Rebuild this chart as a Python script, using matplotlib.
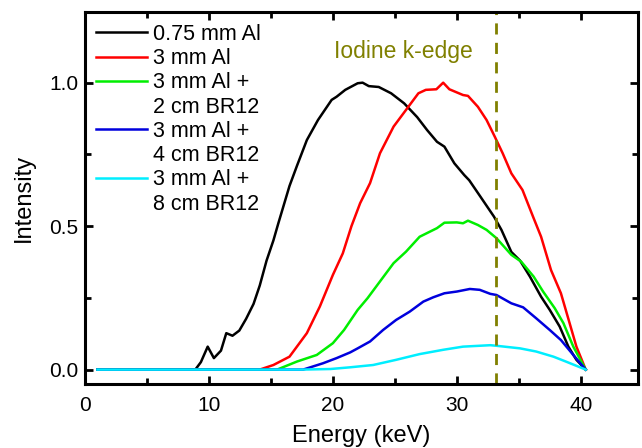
import matplotlib
matplotlib.use("Agg")
import matplotlib.pyplot as plt
from matplotlib.ticker import MultipleLocator, FormatStrFormatter
from matplotlib.lines import Line2D

plt.rcParams['font.family'] = ['Liberation Sans', 'DejaVu Sans']

# ---- data ----
labels = [["0.75 mm Al"], ["3 mm Al"], ["3 mm Al +", "2 cm BR12"],
          ["3 mm Al +", "4 cm BR12"], ["3 mm Al +", "8 cm BR12"]]
colors = ["#000000", "#ff0000", "#00ee00", "#0000dd", "#00eeff"]

e_black = [1, 8.9, 9.35, 9.9, 10.4, 10.97, 11.4, 11.9, 12.45, 13.0, 13.6, 14.1, 14.65,
           15.2, 15.6, 16.5, 17.1, 17.9, 18.8, 19.9, 20.3, 21.0, 22.0, 22.4, 22.9, 23.7,
           24.7, 25.75, 26.8, 27.6, 28.4, 29.0, 29.8, 30.6, 31.0, 31.9, 33.0, 33.6, 34.4,
           35.1, 35.9, 36.8, 37.5, 38.3, 39.0, 39.65, 40.4]
i_black = [0, 0, 0.026, 0.08, 0.04, 0.066, 0.127, 0.118, 0.136, 0.177, 0.229, 0.293, 0.38,
           0.45, 0.51, 0.64, 0.71, 0.80, 0.87, 0.94, 0.951, 0.975, 0.998, 1.0, 0.988, 0.985,
           0.963, 0.928, 0.88, 0.835, 0.794, 0.777, 0.719, 0.678, 0.66, 0.603, 0.533, 0.487, 0.41,
           0.38, 0.324, 0.254, 0.208, 0.15, 0.08, 0.034, 0.0]

e_red = [1, 14.1, 15.2, 16.5, 17.9, 18.95, 20.0, 20.8, 21.5, 22.2, 23.0, 23.8, 24.9, 25.9,
         26.9, 27.5, 28.35, 28.9, 29.4, 30.5, 30.9, 31.7, 32.4, 33.06, 33.7, 34.4, 35.3,
         36.15, 36.8, 37.6, 38.4, 39.1, 39.65, 40.4]
i_red = [0, 0, 0.016, 0.045, 0.127, 0.22, 0.33, 0.405, 0.5, 0.58, 0.65, 0.754, 0.847, 0.905,
         0.963, 0.975, 0.977, 1.0, 0.977, 0.957, 0.954, 0.916, 0.87, 0.812, 0.754, 0.684, 0.626,
         0.533, 0.463, 0.347, 0.266, 0.162, 0.08, 0.0]

e_green = [1, 15.5, 17.1, 18.7, 20.0, 20.9, 22.0, 22.8, 23.9, 24.9, 25.9, 27.0, 28.4, 29.0,
           30.0, 30.5, 30.9, 31.7, 32.4, 33.2, 34.4, 35.2, 36.2, 36.96, 37.9, 38.6, 39.4, 40.4]
i_green = [0, 0, 0.028, 0.051, 0.092, 0.138, 0.208, 0.249, 0.313, 0.371, 0.411, 0.463, 0.493,
           0.512, 0.513, 0.51, 0.519, 0.504, 0.487, 0.458, 0.40, 0.376, 0.324, 0.272, 0.214,
           0.162, 0.08, 0]

e_blue = [1, 17.6, 19.2, 20.3, 21.4, 22.0, 23.0, 24.05, 25.1, 26.2, 27.3, 28.1, 29.0, 30.0,
          31.05, 31.85, 32.7, 33.2, 34.4, 35.35, 36.4, 37.5, 38.4, 39.4, 40.4]
i_blue = [0, 0, 0.022, 0.04, 0.06, 0.074, 0.098, 0.138, 0.173, 0.202, 0.237, 0.252, 0.266,
          0.272, 0.281, 0.278, 0.264, 0.26, 0.231, 0.217, 0.179, 0.138, 0.103, 0.051, 0]

e_cyan = [1, 17.5, 19.8, 21.4, 23.25, 25.1, 27.0, 28.9, 30.5, 32.7, 33.2, 35.1, 36.4, 37.8,
          38.8, 40.4]
i_cyan = [0, 0, 0.002, 0.008, 0.016, 0.034, 0.054, 0.069, 0.08, 0.085, 0.083, 0.074, 0.063,
          0.045, 0.028, 0]

k_edge = 33.17
k_label = "Iodine k-edge"

series = [(e_black, i_black), (e_red, i_red), (e_green, i_green),
          (e_blue, i_blue), (e_cyan, i_cyan)]

# ---- figure ----
fig = plt.figure(figsize=(6.42, 4.48), dpi=100)
ax = fig.add_axes([0.1324, 0.143, 0.861, 0.830])

handles, texts = [], []
for (e, i), c, lab in zip(series, colors, labels):
    ln, = ax.plot(e, i, color=c, lw=1.8)
    handles.append(ln)
    texts.append(lab[0])
    for extra in lab[1:]:
        handles.append(Line2D([], [], color="none"))
        texts.append(extra)

ax.axvline(k_edge, color="#808000", lw=2.0, ls=(0, (4, 3)))
ax.text(25.7, 1.107, k_label, color="#808000", fontsize=16.5, ha="center", va="center")

ax.set_xlim(0, 44.6)
ax.set_ylim(-0.05, 1.246)
ax.xaxis.set_major_locator(MultipleLocator(10))
ax.xaxis.set_minor_locator(MultipleLocator(5))
ax.yaxis.set_major_locator(MultipleLocator(0.5))
ax.yaxis.set_minor_locator(MultipleLocator(0.25))
ax.yaxis.set_major_formatter(FormatStrFormatter("%.1f"))

ax.tick_params(which="both", direction="in", top=True, right=True, width=2, labelsize=15)
ax.tick_params(which="major", length=6)
ax.tick_params(axis="x", which="major", pad=9)
ax.tick_params(axis="y", which="major", pad=5)
ax.tick_params(which="minor", length=4)
for s in ax.spines.values():
    s.set_linewidth(2.2)

ax.set_xlabel("Energy (keV)", fontsize=17, labelpad=7)
ax.set_ylabel("Intensity", fontsize=17, labelpad=10)

leg = ax.legend(handles, texts, loc="upper left", bbox_to_anchor=(0.02, 0.968),
                frameon=False, fontsize=15.5, handlelength=2.37,
                handletextpad=0.28, labelspacing=0.15, borderaxespad=0.0,
                borderpad=0.0)

fig.savefig("out.png", dpi=100)
